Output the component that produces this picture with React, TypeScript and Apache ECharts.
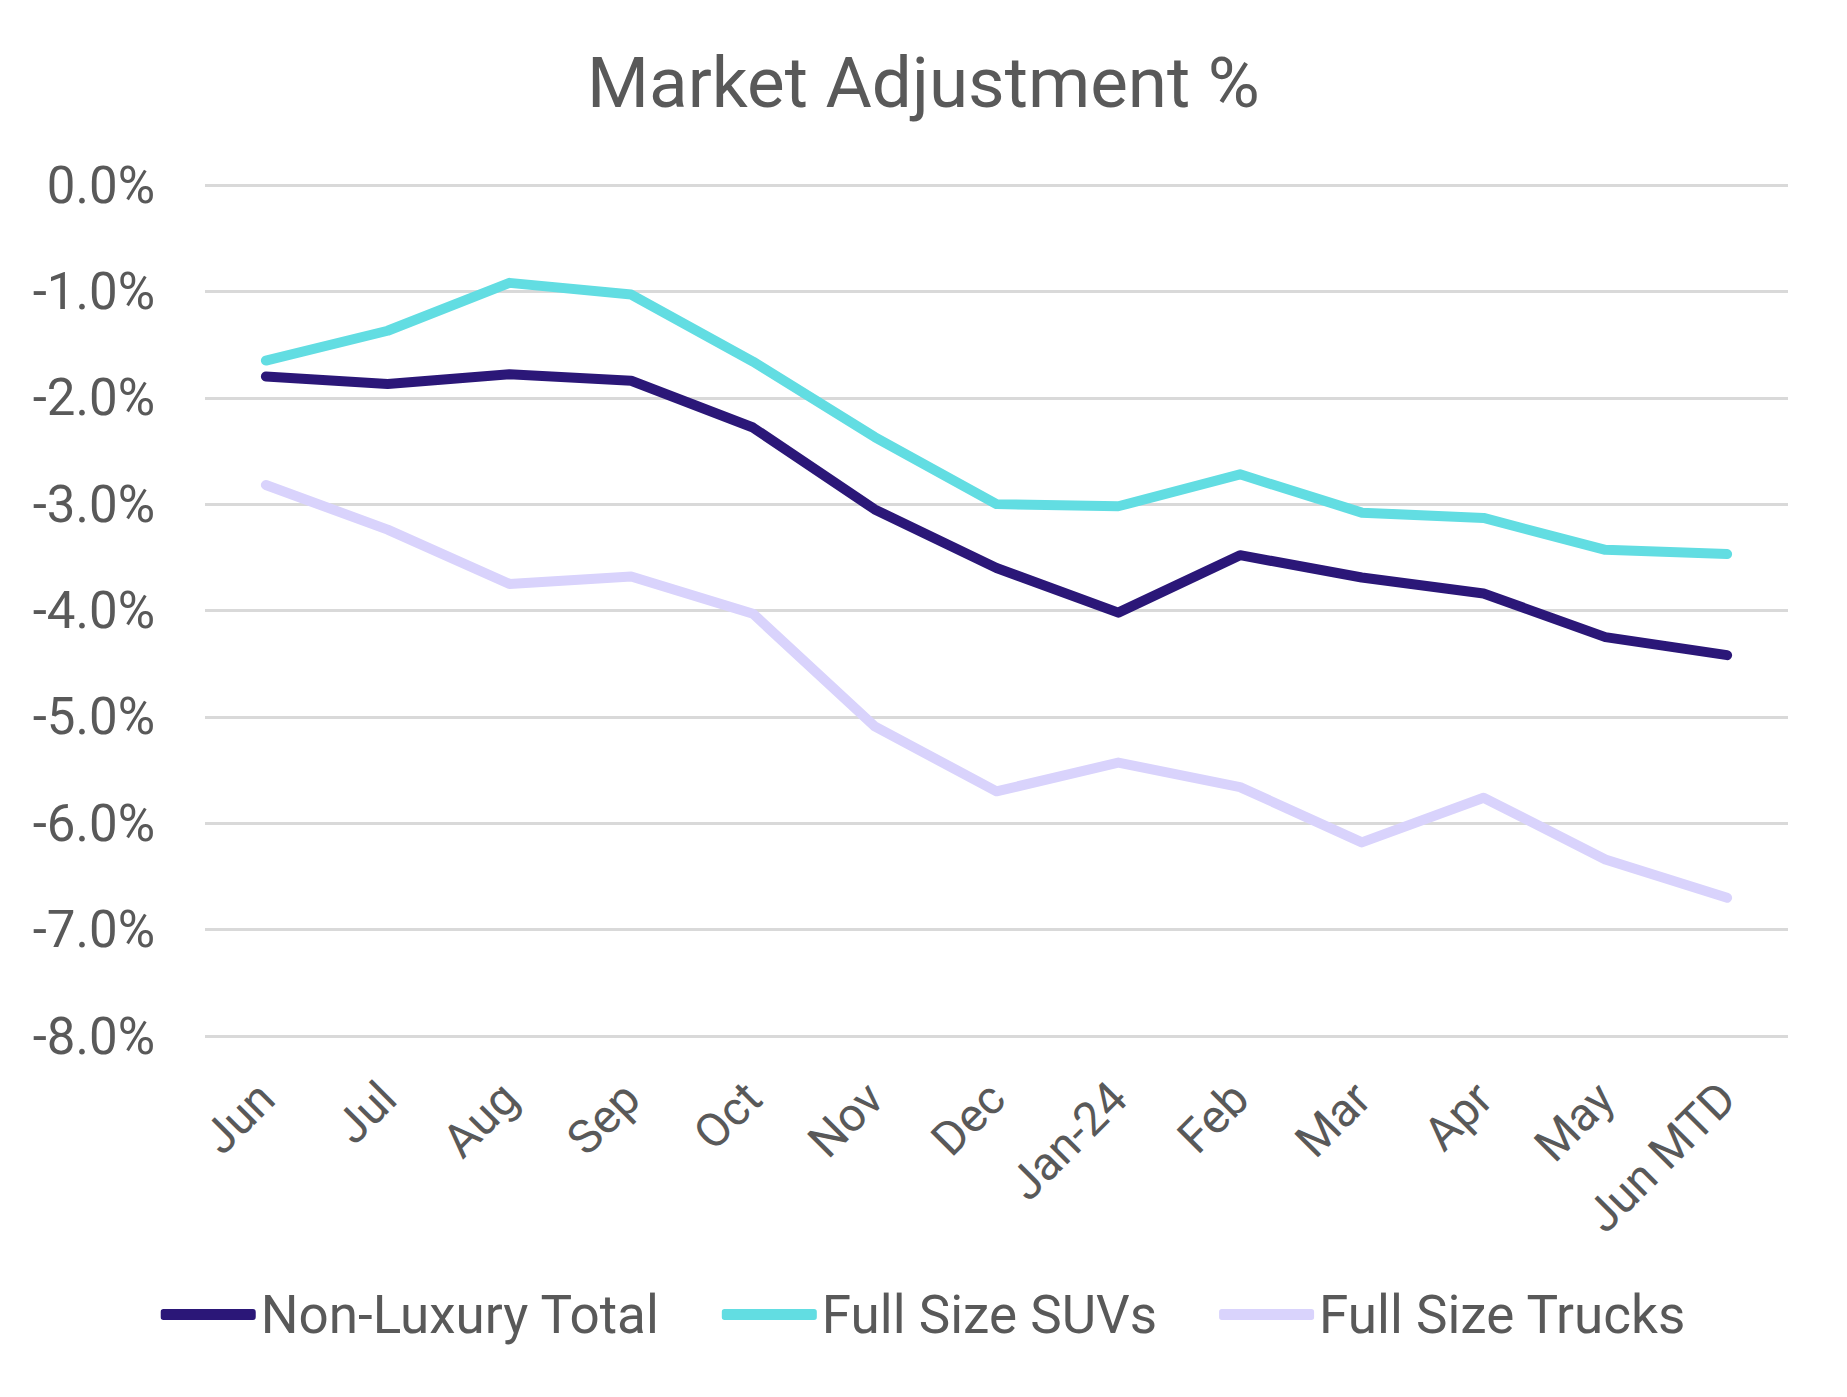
import React, { useEffect, useRef } from "react";
import * as echarts from "echarts";

const categories = ["Jun", "Jul", "Aug", "Sep", "Oct", "Nov", "Dec", "Jan-24", "Feb", "Mar", "Apr", "May", "Jun MTD"];
const nonLuxuryTotal = [-1.80, -1.87, -1.78, -1.84, -2.28, -3.05, -3.60, -4.02, -3.48, -3.69, -3.84, -4.25, -4.42];
const fullSizeSUVs = [-1.65, -1.37, -0.92, -1.03, -1.66, -2.37, -3.00, -3.02, -2.72, -3.08, -3.13, -3.43, -3.47];
const fullSizeTrucks = [-2.82, -3.24, -3.75, -3.68, -4.03, -5.09, -5.70, -5.43, -5.66, -6.18, -5.76, -6.34, -6.70];
const seriesNames = ["Non-Luxury Total", "Full Size SUVs", "Full Size Trucks"];
const seriesColors = ["#2B1778", "#62DDE2", "#D9D3FC"];

const FONT = "Roboto";
const TEXT = "#595959";

export default function App() {
  const ref = useRef<HTMLDivElement>(null);
  useEffect(() => {
    document.body.style.margin = "0";
    if (!ref.current) return;
    const chart = echarts.init(ref.current, null, { renderer: "svg" });
    const data = [nonLuxuryTotal, fullSizeSUVs, fullSizeTrucks];
    chart.setOption({
      animation: false,
      backgroundColor: "#ffffff",
      title: {
        text: "Market Adjustment %",
        left: "center",
        top: 42,
        textStyle: { fontFamily: FONT, fontSize: 71, fontWeight: "normal", color: TEXT },
      },
      grid: { left: 205, right: 59, top: 185, bottom: 361, containLabel: false },
      legend: {
        left: "center",
        top: 1283,
        icon: "roundRect",
        itemWidth: 95,
        itemHeight: 11,
        itemGap: 62,
        textStyle: { fontFamily: FONT, fontSize: 53, color: TEXT },
        data: seriesNames,
      },
      xAxis: {
        type: "category",
        data: categories,
        boundaryGap: true,
        axisLine: { show: false },
        axisTick: { show: false },
        axisLabel: {
          rotate: 45,
          interval: 0,
          margin: 54,
          fontFamily: FONT,
          fontSize: 47,
          color: TEXT,
        },
      },
      yAxis: {
        type: "value",
        min: -8,
        max: 0,
        interval: 1,
        axisLine: { show: false },
        axisTick: { show: false },
        splitLine: { lineStyle: { color: "#D9D9D9", width: 3 } },
        axisLabel: {
          margin: 50,
          fontFamily: FONT,
          fontSize: 51,
          color: TEXT,
          formatter: (v: number) => v.toFixed(1) + "%",
        },
      },
      series: seriesNames.map((name, i) => ({
        name,
        type: "line",
        data: data[i],
        symbol: "none",
        color: seriesColors[i],
        lineStyle: { width: 10, color: seriesColors[i], cap: "round", join: "round" },
        z: 3 - i,
      })),
    });
    return () => chart.dispose();
  }, []);
  return <div ref={ref} style={{ width: 1847, height: 1397 }} />;
}
